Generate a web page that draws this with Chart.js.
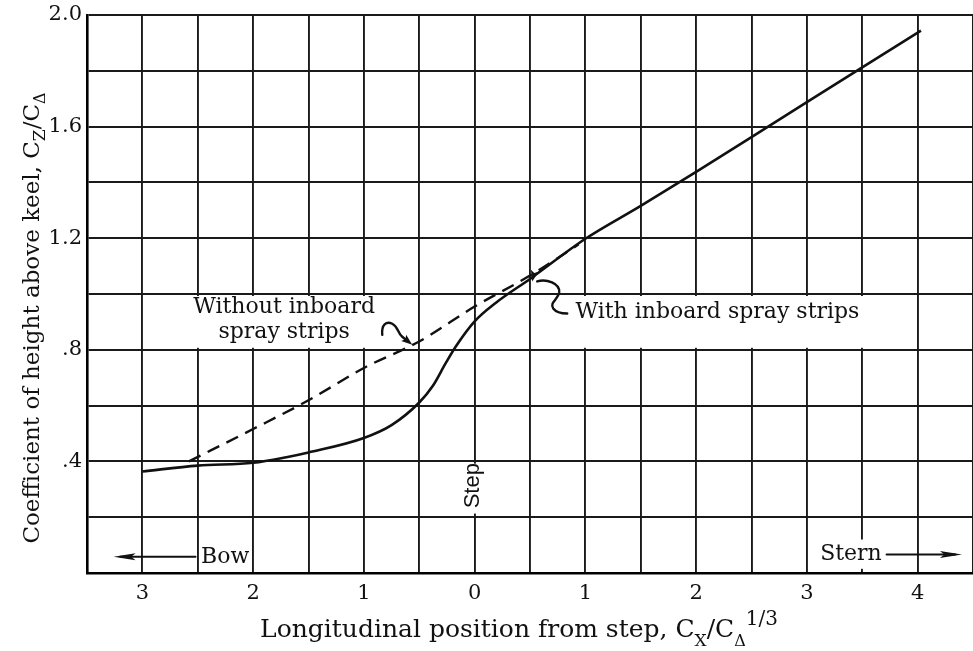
<!DOCTYPE html>
<html>
<head>
<meta charset="utf-8">
<title>Coefficient of height above keel</title>
<script src="https://cdn.jsdelivr.net/npm/chart.js@4.4.1/dist/chart.umd.min.js"></script>
<style>
  html, body { margin: 0; padding: 0; background: #fff; }
  #wrap { position: relative; width: 973px; height: 651px; }
</style>
</head>
<body>
<div id="wrap"><canvas id="keelChart"></canvas></div>
<script>
// Longitudinal position from step (negative = toward bow) and height coefficient
const withStripsX = [-3, -2.5, -2, -1.7, -1.5, -1, -0.75, -0.5, -0.38, -0.26, -0.17, 0, 0.19, 0.5, 1, 1.5, 2, 2.5, 3, 3.5, 4.03];
const withStripsY = [0.364, 0.385, 0.395, 0.415, 0.432, 0.484, 0.53, 0.611, 0.669, 0.753, 0.812, 0.902, 0.968, 1.054, 1.198, 1.316, 1.438, 1.562, 1.688, 1.812, 1.944];

const withoutStripsX = [-2.58, -2, -1.5, -1, -0.5, 0, 0.5, 0.94];
const withoutStripsY = [0.40, 0.516, 0.619, 0.735, 0.83, 0.955, 1.066, 1.178];

// labelled ticks (bow side is shown without sign)
const xLabelled = [-3, -2, -1, 0, 1, 2, 3, 4];
const xTickLabels = ['3', '2', '1', '0', '1', '2', '3', '4'];
const yLabelled = [0.4, 0.8, 1.2, 1.6, 2.0];
const yTickLabels = ['.4', '.8', '1.2', '1.6', '2.0'];

const SERIF = '"DejaVu Serif", serif';
const SANS = '"Liberation Sans", Arial, sans-serif';
const INK = '#111';

function labelFor(v, values, labels) {
    const i = values.findIndex(t => Math.abs(t - v) < 1e-6);
    return i >= 0 ? labels[i] : '';
}

function drawRich(ctx, parts, cx, baseline) {
    let total = 0;
    parts.forEach(p => {
        ctx.font = p.size + 'px ' + SERIF;
        p.w = ctx.measureText(p.t).width;
        total += p.w;
    });
    let px = cx - total / 2;
    ctx.textAlign = 'left';
    ctx.textBaseline = 'alphabetic';
    parts.forEach(p => {
        ctx.font = p.size + 'px ' + SERIF;
        ctx.fillText(p.t, px, baseline + (p.dy || 0));
        px += p.w;
    });
}

function arrowHead(ctx, x, y, angle, len, half) {
    ctx.save();
    ctx.translate(x, y);
    ctx.rotate(angle);
    ctx.beginPath();
    ctx.moveTo(0, 0);
    ctx.lineTo(-len, -half);
    ctx.lineTo(-len * 0.8, 0);
    ctx.lineTo(-len, half);
    ctx.closePath();
    ctx.fill();
    ctx.restore();
}

// notes, leaders and axis titles
const paperNotes = {
    id: 'paperNotes',
    beforeDatasetsDraw(chart) {
        const { ctx, scales: { x, y } } = chart;
        const top = y.getPixelForValue(1.0) + 2;
        const bottom = y.getPixelForValue(0.8) - 2;
        ctx.save();
        ctx.fillStyle = '#fff';
        // behind "Without inboard spray strips"
        ctx.fillRect(x.getPixelForValue(-2.62), top, x.getPixelForValue(-0.82) - x.getPixelForValue(-2.62), bottom - top);
        // behind "With inboard spray strips"
        ctx.fillRect(x.getPixelForValue(0.88), top, x.getPixelForValue(3.75) - x.getPixelForValue(0.88), bottom - top);
        // behind "Step"
        const sx = x.getPixelForValue(0);
        ctx.fillRect(sx - 12, y.getPixelForValue(0.392), 24, y.getPixelForValue(0.213) - y.getPixelForValue(0.392));
        // behind "Stern"
        ctx.fillRect(x.getPixelForValue(3.1), y.getPixelForValue(0.12), x.getPixelForValue(3.7) - x.getPixelForValue(3.1), y.getPixelForValue(0.015) - y.getPixelForValue(0.12));
        ctx.restore();
    },
    afterDatasetsDraw(chart) {
        const { ctx, scales: { x, y } } = chart;
        ctx.save();
        ctx.fillStyle = INK;
        ctx.strokeStyle = INK;

        ctx.font = '22px ' + SERIF;
        ctx.textBaseline = 'middle';
        ctx.textAlign = 'center';
        ctx.fillText('Without inboard', x.getPixelForValue(-1.72), y.getPixelForValue(0.954));
        ctx.fillText('spray strips', x.getPixelForValue(-1.72), y.getPixelForValue(0.861));
        ctx.textAlign = 'left';
        ctx.fillText('With inboard spray strips', x.getPixelForValue(0.91), y.getPixelForValue(0.933));

        // leader to dashed curve
        ctx.lineWidth = 2.4;
        ctx.lineCap = 'round';
        let tx = x.getPixelForValue(-0.563), ty = y.getPixelForValue(0.818);
        ctx.beginPath();
        ctx.moveTo(tx - 30, ty - 10);
        ctx.bezierCurveTo(tx - 31, ty - 20, tx - 26, ty - 24, tx - 20, ty - 21);
        ctx.bezierCurveTo(tx - 14, ty - 18, tx - 15, ty - 12, tx - 10, ty - 8);
        ctx.lineTo(tx - 4, ty - 3);
        ctx.stroke();
        arrowHead(ctx, tx, ty, Math.atan2(8, 10), 11, 4);

        // leader to solid curve
        tx = x.getPixelForValue(0.52); ty = y.getPixelForValue(1.045);
        ctx.beginPath();
        ctx.moveTo(tx + 5, ty + 0);
        ctx.bezierCurveTo(tx + 14, ty - 3, tx + 28, ty + 2, tx + 27, ty + 11);
        ctx.bezierCurveTo(tx + 26, ty + 18, tx + 17, ty + 21, tx + 21, ty + 27);
        ctx.bezierCurveTo(tx + 24, ty + 31, tx + 30, ty + 32, tx + 35, ty + 32);
        ctx.stroke();
        arrowHead(ctx, tx, ty, Math.atan2(1, -1) - 0.55, 11, 4);

        // Step (rotated)
        ctx.save();
        ctx.translate(x.getPixelForValue(0) - 2, y.getPixelForValue(0.313));
        ctx.rotate(-Math.PI / 2);
        ctx.font = '22px ' + SANS;
        ctx.textAlign = 'center';
        ctx.textBaseline = 'middle';
        ctx.fillText('Step', 0, 0);
        ctx.restore();

        // Bow and Stern arrows
        ctx.font = '22px ' + SERIF;
        ctx.textBaseline = 'middle';
        ctx.textAlign = 'left';
        const by = y.getPixelForValue(0.058);
        ctx.fillText('Bow', x.getPixelForValue(-2.47), by);
        ctx.lineWidth = 2;
        ctx.beginPath();
        ctx.moveTo(x.getPixelForValue(-2.52), by);
        ctx.lineTo(x.getPixelForValue(-3.2), by);
        ctx.stroke();
        arrowHead(ctx, x.getPixelForValue(-3.26), by, Math.PI, 22, 3.5);

        const sy = y.getPixelForValue(0.066);
        ctx.fillText('Stern', x.getPixelForValue(3.12), sy);
        ctx.beginPath();
        ctx.moveTo(x.getPixelForValue(3.72), sy);
        ctx.lineTo(x.getPixelForValue(4.34), sy);
        ctx.stroke();
        arrowHead(ctx, x.getPixelForValue(4.4), sy, 0, 22, 3.5);
        ctx.restore();
    },
    afterDraw(chart) {
        const { ctx } = chart;
        ctx.save();
        ctx.fillStyle = INK;
        drawRich(ctx, [
            { t: 'Longitudinal position from step, C', size: 25 },
            { t: 'X', size: 17, dy: 9 },
            { t: '/C', size: 25 },
            { t: 'Δ', size: 16, dy: 9 },
            { t: '1/3', size: 20, dy: -12 }
        ], 519, 637);

        ctx.translate(39, 318);
        ctx.rotate(-Math.PI / 2);
        drawRich(ctx, [
            { t: 'Coefficient of height above keel, C', size: 23 },
            { t: 'Z', size: 17, dy: 6 },
            { t: '/C', size: 23 },
            { t: 'Δ', size: 16, dy: 6 }
        ], 0, 0);
        ctx.restore();
    }
};

const ctxEl = document.getElementById('keelChart');
new Chart(ctxEl, {
    type: 'line',
    data: {
        datasets: [
            {
                label: 'With inboard spray strips',
                data: withStripsX.map((v, i) => ({ x: v, y: withStripsY[i] })),
                borderColor: INK,
                borderWidth: 2.6,
                pointRadius: 0,
                cubicInterpolationMode: 'monotone',
                fill: false
            },
            {
                label: 'Without inboard spray strips',
                data: withoutStripsX.map((v, i) => ({ x: v, y: withoutStripsY[i] })),
                borderColor: INK,
                borderWidth: 2.4,
                borderDash: [13, 8],
                pointRadius: 0,
                cubicInterpolationMode: 'monotone',
                fill: false
            }
        ]
    },
    options: {
        responsive: true,
        maintainAspectRatio: false,
        animation: false,
        layout: { padding: { top: 15, right: 0, bottom: 0, left: 0 } },
        plugins: {
            legend: { display: false },
            tooltip: { enabled: false }
        },
        scales: {
            x: {
                type: 'linear',
                min: -3.5,
                max: 4.5,
                afterFit(scale) {
                    scale.height = 78;
                    scale.paddingLeft = 0;
                    scale.paddingRight = 0;
                },
                ticks: {
                    stepSize: 0.5,
                    autoSkip: false,
                    maxRotation: 0,
                    padding: 8,
                    color: INK,
                    font: { size: 21, family: SERIF },
                    callback: v => labelFor(v, xLabelled, xTickLabels)
                },
                grid: { color: '#1a1a1a', lineWidth: 1.9, drawTicks: false },
                border: { display: true, color: '#000', width: 2.6 }
            },
            y: {
                min: 0,
                max: 2,
                afterFit(scale) {
                    scale.width = 87;
                    scale.paddingTop = 0;
                    scale.paddingBottom = 0;
                },
                ticks: {
                    stepSize: 0.2,
                    autoSkip: false,
                    padding: 5,
                    color: INK,
                    font: { size: 21, family: SERIF },
                    callback: v => labelFor(v, yLabelled, yTickLabels)
                },
                grid: { color: '#1a1a1a', lineWidth: 1.9, drawTicks: false },
                border: { display: true, color: '#000', width: 2.6 }
            }
        }
    },
    plugins: [paperNotes]
});
</script>
</body>
</html>
